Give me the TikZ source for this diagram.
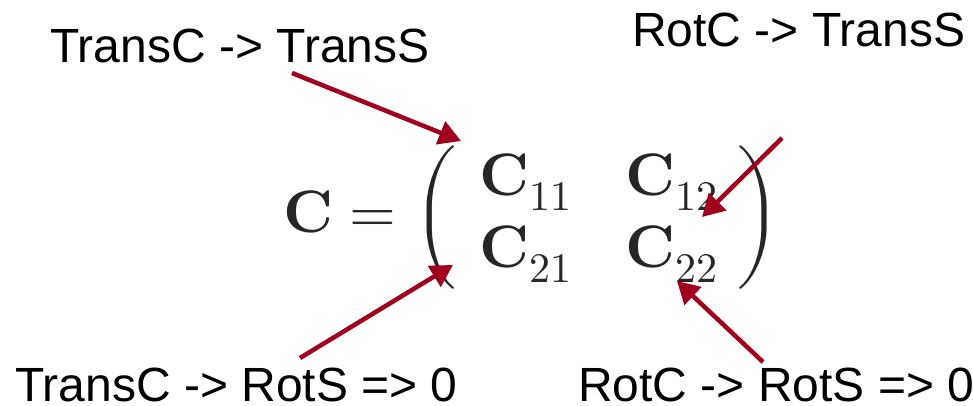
\documentclass[tikz,border=0pt]{standalone}
\usepackage{amsmath}
\usepackage{fontspec}
\setmainfont{Liberation Sans}
\usepackage{unicode-math}
\setmathfont{Latin Modern Math}
\usetikzlibrary{arrows.meta}
\definecolor{arrred}{HTML}{A0001E}
\tikzset{
  lbl/.style={anchor=base west, inner sep=0pt, text depth=0pt, font=\fontsize{48}{54}\selectfont},
  ptr/.style={draw=arrred, line width=4.5pt, -{Triangle[length=22pt,width=24pt]}},
}
\begin{document}
\begin{tikzpicture}[x=1pt,y=-1pt]
\useasboundingbox (0,0) rectangle (973,406);
\node[anchor=west, inner sep=0pt, text=black!85] (eq) at (283,217)
  {\fontsize{60}{72}\selectfont\setlength{\arraycolsep}{27pt}$\symbf{C} = \left(\hspace{-5pt}\begin{array}{cc} \symbf{C}_{11} & \symbf{C}_{12}\\ \symbf{C}_{21} & \symbf{C}_{22}\end{array}\hspace{-8pt}\right)$};
\node[lbl] (l1) at (50,63) {TransC -> TransS};
\node[lbl] (l2) at (632,47) {RotC -> TransS};
\node[lbl] (l3) at (15,401) {TransC -> RotS => 0};
\node[lbl] (l4) at (578,401) {RotC -> RotS => 0};
\coordinate (s1) at (292,73);  \coordinate (e1) at (461,141);
\coordinate (s2) at (782,138); \coordinate (e2) at (702,217);
\coordinate (s3) at (300,358); \coordinate (e3) at (453,265);
\coordinate (s4) at (763,362); \coordinate (e4) at (677,281);
\draw[ptr] (s1) -- (e1);
\draw[ptr] (s2) -- (e2);
\draw[ptr] (s3) -- (e3);
\draw[ptr] (s4) -- (e4);
\end{tikzpicture}
\end{document}
